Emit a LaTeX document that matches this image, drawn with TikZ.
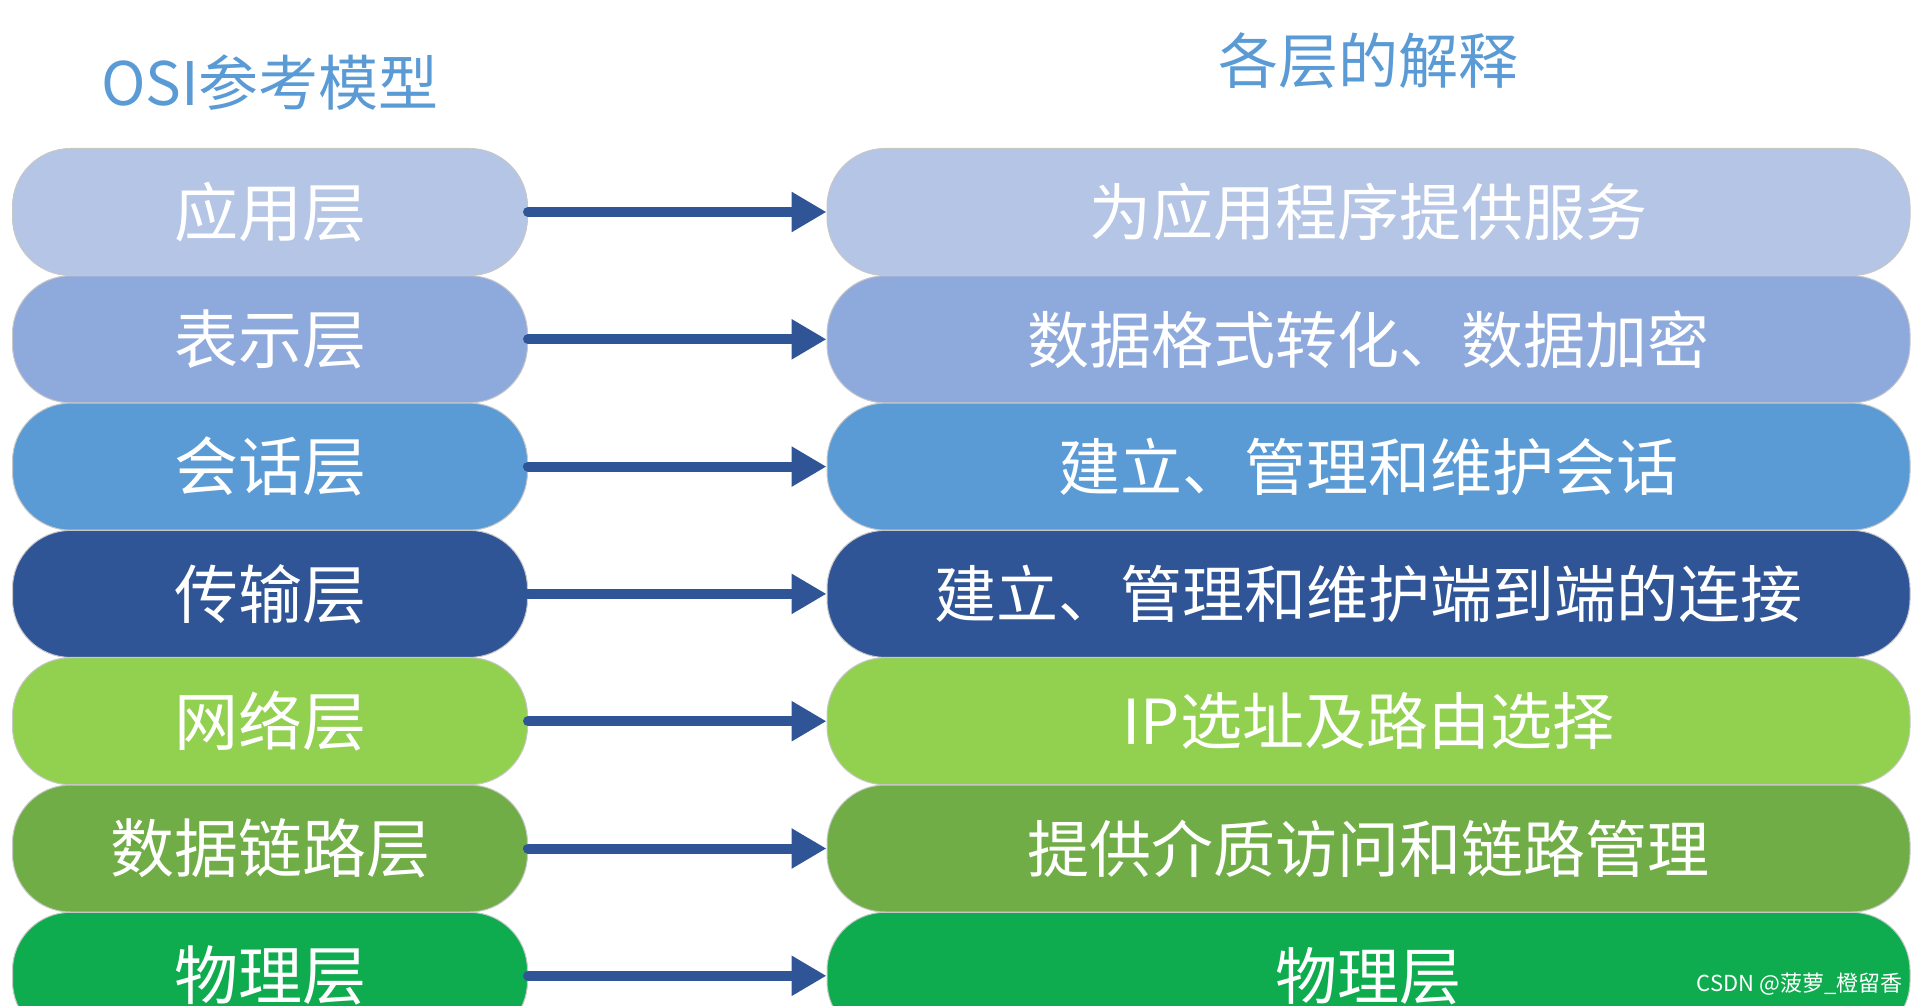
\documentclass[tikz,border=0pt]{standalone}
\usepackage{fontspec}
\newfontfamily\cjk{Noto Sans CJK SC}
\usetikzlibrary{arrows.meta}

\definecolor{appc}{HTML}{B4C5E5}
\definecolor{prec}{HTML}{8EA9DB}
\definecolor{sesc}{HTML}{5B9BD5}
\definecolor{trac}{HTML}{2F5597}
\definecolor{netc}{HTML}{92D050}
\definecolor{dlc}{HTML}{70AD47}
\definecolor{phyc}{HTML}{0FAC4F}
\definecolor{arrowc}{HTML}{2F5597}
\definecolor{titlec}{HTML}{5B9BD5}

\begin{document}
\begin{tikzpicture}[
    x=1pt, y=-1pt,
    layer/.style={draw=black!22, line width=1pt, rounded corners=58pt,
                  minimum width=515pt, minimum height=127pt, inner sep=0pt,
                  text=white, font=\cjk\fontsize{64}{70}\selectfont},
    explain/.style={layer, minimum width=1083pt,
                    font=\cjk\fontsize{62}{68}\selectfont},
    flow/.style={draw=arrowc, line width=10pt, line cap=round,
                 -{Triangle[length=35pt,width=38pt]}},
    heading/.style={text=titlec, font=\cjk\fontsize{60}{66}\selectfont}
  ]
    \useasboundingbox (0,0) rectangle (1922,1006);
    \clip (0,0) rectangle (1922,1006);

    \node[heading] (osi) at (270,83) {OSI参考模型};
    \node[heading] (meaning) at (1368,61) {各层的解释};

    \node[layer, fill=appc] (app) at (270,212) {应用层};
    \node[layer, fill=prec] (pre) at (270,339.3) {表示层};
    \node[layer, fill=sesc] (ses) at (270,466.6) {会话层};
    \node[layer, fill=trac] (tra) at (270,593.9) {传输层};
    \node[layer, fill=netc] (net) at (270,721.2) {网络层};
    \node[layer, fill=dlc] (dl) at (270,848.5) {数据链路层};
    \node[layer, fill=phyc] (phy) at (270,975.8) {物理层};

    \node[explain, fill=appc] (appx) at (1368.5,212) {为应用程序提供服务};
    \node[explain, fill=prec] (prex) at (1368.5,339.3) {数据格式转化、数据加密};
    \node[explain, fill=sesc] (sesx) at (1368.5,466.6) {建立、管理和维护会话};
    \node[explain, fill=trac] (trax) at (1368.5,593.9) {建立、管理和维护端到端的连接};
    \node[explain, fill=netc] (netx) at (1368.5,721.2) {IP选址及路由选择};
    \node[explain, fill=dlc] (dlx) at (1368.5,848.5) {提供介质访问和链路管理};
    \node[explain, fill=phyc] (phyx) at (1368.5,975.8) {物理层};

    \draw[flow] (app.east) -- (appx.west);
    \draw[flow] (pre.east) -- (prex.west);
    \draw[flow] (ses.east) -- (sesx.west);
    \draw[flow] (tra.east) -- (trax.west);
    \draw[flow] (net.east) -- (netx.west);
    \draw[flow] (dl.east) -- (dlx.west);
    \draw[flow] (phy.east) -- (phyx.west);

    \node[anchor=east, text=white, font=\cjk\fontsize{22}{26}\selectfont]
      (mark) at (1906,984) {CSDN @菠萝\_橙留香};
  \end{tikzpicture}
\end{document}
